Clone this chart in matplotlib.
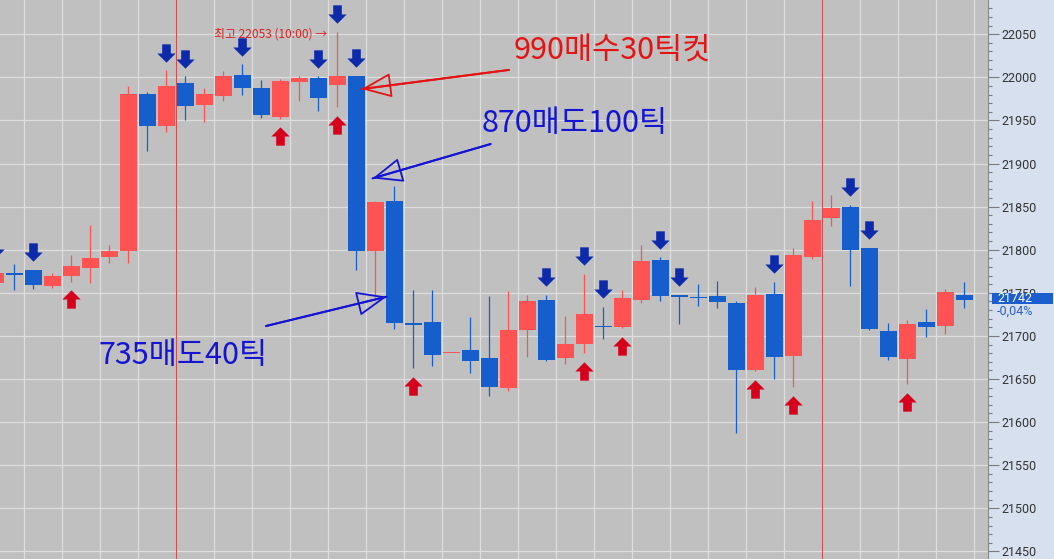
import matplotlib
matplotlib.use('Agg')
import numpy as np
import matplotlib.pyplot as plt
from matplotlib.path import Path
from matplotlib.patches import Rectangle
from matplotlib.ticker import MultipleLocator
from matplotlib.transforms import ScaledTranslation, blended_transform_factory

plt.rcParams['font.family'] = ['Noto Sans CJK KR', 'DejaVu Sans']
AXIS_FONT = ['Roboto', 'DejaVu Sans']

# candle index -1 is the one cut off at the left edge
opens = [21761, 21772, 21776, 21758, 21769, 21779, 21792, 21798, 21981, 21943,
         21993, 21968, 21978, 22003, 21988, 21954, 21994, 21999, 21991, 22001,
         21798, 21856, 21714, 21716, 21680, 21684, 21674, 21639, 21707, 21742,
         21674, 21691, 21711, 21710, 21742, 21788, 21748, 21745, 21746, 21738,
         21660, 21749, 21677, 21792, 21837, 21850, 21802, 21706, 21673, 21716,
         21712, 21748]
highs = [21780, 21783, 21777, 21773, 21794, 21829, 21806, 21990, 21983, 22008,
         22001, 21988, 22007, 22015, 21997, 21998, 22001, 22001, 22053, 22002,
         21857, 21874, 21753, 21753, 21680, 21722, 21746, 21752, 21748, 21748,
         21723, 21772, 21734, 21753, 21806, 21791, 21748, 21760, 21764, 21741,
         21757, 21763, 21802, 21856, 21863, 21852, 21802, 21715, 21719, 21731,
         21754, 21762]
lows = [21758, 21753, 21755, 21756, 21763, 21761, 21785, 21785, 21915, 21937,
        21950, 21948, 21973, 21979, 21953, 21952, 21973, 21961, 21965, 21777,
        21745, 21708, 21663, 21665, 21680, 21657, 21630, 21636, 21676, 21671,
        21668, 21680, 21697, 21709, 21738, 21741, 21714, 21735, 21732, 21587,
        21659, 21650, 21641, 21789, 21827, 21758, 21707, 21672, 21644, 21699,
        21702, 21732]
closes = [21773, 21771, 21759, 21770, 21781, 21790, 21799, 21981, 21943, 21990,
          21967, 21981, 22001, 21988, 21956, 21996, 21999, 21976, 22002, 21798,
          21855, 21715, 21713, 21678, 21680, 21671, 21641, 21707, 21741, 21672,
          21691, 21725, 21710, 21744, 21787, 21746, 21745, 21744, 21739, 21660,
          21748, 21676, 21794, 21835, 21848, 21800, 21708, 21676, 21714, 21710,
          21751, 21742]

sell_signals = [-1, 1, 8, 9, 12, 16, 17, 18, 28, 30, 31, 34, 35, 40, 44, 45]
buy_signals = [3, 14, 17, 21, 30, 32, 39, 41, 47]
session_breaks = [8.53, 42.53]

high_label = '최고 22053 (10:00) →'
change_label = '-0,04%'

# annotations: (text, text pos, arrow tail, arrow tip, color)
notes = [
    ('990매수30틱컷', (26.27, 22031), (26.04, 22008.6), (18.28, 21986.4), '#e41414'),
    ('870매도100틱', (24.6, 21946.6), (25.07, 21922.6), (18.86, 21882.8), '#1414d2'),
    ('735매도40틱', (4.42, 21677.8), (13.25, 21711.5), (19.6, 21745.5), '#1414d2'),
]

UP = '#ff5252'
DOWN = '#155ecc'

idx = np.arange(-1, len(opens) - 1)
o = np.array(opens, float)
c = np.array(closes, float)
h = np.array(highs, float)
l = np.array(lows, float)
colors = [UP if cc >= oo else DOWN for oo, cc in zip(o, c)]

fig = plt.figure(figsize=(10.54, 5.59), dpi=100, facecolor='#d6e0ee')
ax = fig.add_axes([0, 0, 988 / 1054, 1])
ax.set_facecolor('#c0c0c0')
ax.set_xlim(-0.753, 51.25)
ax.set_ylim(21441.2, 22089.7)

# grid
ax.set_axisbelow(True)
ax.set_xticks(np.arange(0.53, 52, 2))
ax.tick_params(axis='x', length=0, labelbottom=False)
ax.grid(True, color='#dedede', lw=0.9)
for s in ['left', 'top', 'bottom']:
    ax.spines[s].set_visible(False)
ax.spines['right'].set_color('#8a8a8a')

yt = np.arange(21450, 22051, 50)
ax.yaxis.tick_right()
ax.set_yticks(yt, [str(v) for v in yt], fontfamily=AXIS_FONT)
ax.yaxis.set_minor_locator(MultipleLocator(10))
ax.tick_params(axis='y', which='major', length=8, width=0.8, color='#7a7a7a',
               labelsize=9, labelcolor='#333333', pad=1.5)
ax.tick_params(axis='y', which='minor', length=3, width=0.8, color='#7a7a7a')

for xb in session_breaks:
    ax.axvline(xb, color='#cc5050', lw=0.8, zorder=1)

# candles
ax.vlines(idx, l, h, colors=colors, lw=0.9, zorder=2)
body = np.maximum(np.abs(c - o), 1.6)
ax.bar(idx, body, bottom=np.minimum(o, c), width=0.88, color=colors, lw=0, zorder=3)

# signal arrows
down_marker = Path([(-0.47, 1), (0.47, 1), (0.47, 0), (1, 0), (0, -1), (-1, 0), (-0.47, 0), (-0.47, 1)], closed=True)
up_marker = Path([(-0.47, -1), (0.47, -1), (0.47, 0), (1, 0), (0, 1), (-1, 0), (-0.47, 0), (-0.47, -1)], closed=True)
up_shift = ax.transData + ScaledTranslation(0, 0.176, fig.dpi_scale_trans)
dn_shift = ax.transData + ScaledTranslation(0, -0.178, fig.dpi_scale_trans)
si = np.array(sell_signals)
bi = np.array(buy_signals)
ax.plot(si, h[si + 1], ls='none', marker=down_marker, ms=13.2, mfc='#0d2aaa', mec='none',
        transform=up_shift, zorder=4)
ax.plot(bi, l[bi + 1], ls='none', marker=up_marker, ms=13.2, mfc='#d6001c', mec='none',
        transform=dn_shift, zorder=4)

# day high label
top = int(np.argmax(h))
ax.text(idx[top] - 0.55, h[top] - 3, high_label, color='#dd2020', fontsize=8.6,
        ha='right', va='center', zorder=5)

# text notes with open arrow heads
for txt, pos, tail, tip, col in notes:
    ax.annotate('', xy=tip, xytext=tail,
                arrowprops=dict(arrowstyle='-', color=col, lw=1.5, shrinkA=0, shrinkB=0), zorder=6)
    ax.annotate('', xy=tip, xytext=tail,
                arrowprops=dict(arrowstyle='-|>,head_length=19,head_width=7.8', mutation_scale=1,
                                fc='none', ec=col, lw=1.3, shrinkA=0, shrinkB=0), zorder=6)
    ax.text(pos[0], pos[1], txt, color=col, fontsize=22, ha='left', va='center', zorder=6)

# last price box on the axis
bt = blended_transform_factory(ax.transAxes, ax.transData)
last = c[-1]
ax.add_patch(Rectangle((1.0044, last - 5.5), 0.0617, 13.1, transform=bt, fc='#1a5fcd',
                       lw=0, clip_on=False, zorder=7))
ax.text(1.0093, last + 1, '%d' % last, transform=bt, color='white', fontsize=9,
        fontfamily=AXIS_FONT, va='center', ha='left', clip_on=False, zorder=8)
ax.text(1.0093, last + 1, change_label, color='#2a5fcc', fontsize=9,
        fontfamily=AXIS_FONT, va='center', ha='left', clip_on=False,
        transform=bt + ScaledTranslation(0, -0.125, fig.dpi_scale_trans), zorder=8)

fig.savefig('out.png', dpi=100, facecolor=fig.get_facecolor())
